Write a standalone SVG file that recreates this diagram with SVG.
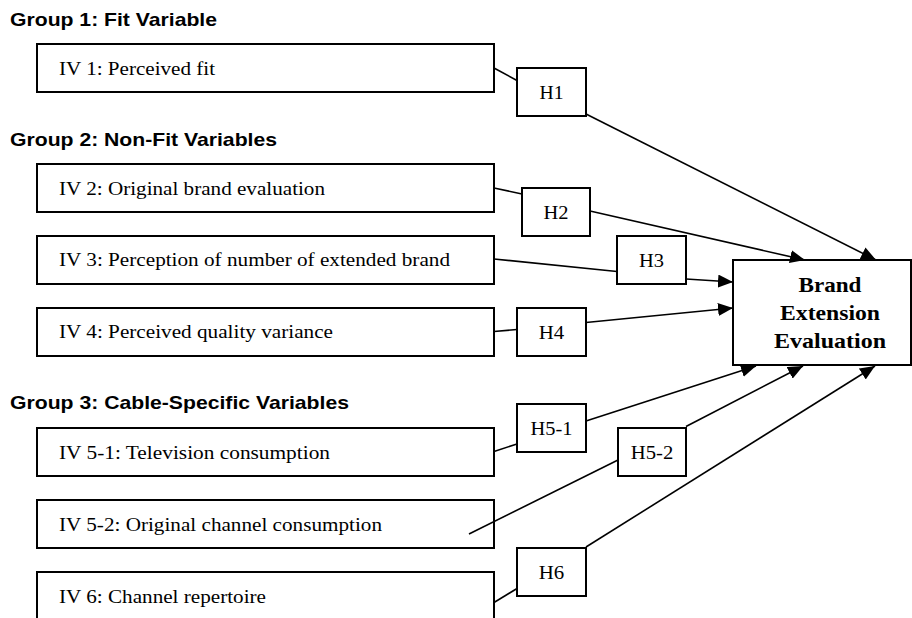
<svg xmlns="http://www.w3.org/2000/svg" width="912" height="618" viewBox="0 0 912 618">
<style>
.bg{fill:#ffffff}
.box{fill:#ffffff;stroke:#000000;stroke-width:2}
.head{font-family:"Liberation Sans",Arial,sans-serif;font-weight:bold;font-size:18.5px;fill:#000000}
.iv{font-family:"Liberation Serif","Times New Roman",serif;font-size:18px;fill:#000000}
.h{font-family:"Liberation Serif","Times New Roman",serif;font-size:18px;fill:#000000;text-anchor:middle}
.dv{font-family:"Liberation Serif","Times New Roman",serif;font-weight:bold;font-size:22px;fill:#000000;text-anchor:middle}
.ln{fill:none;stroke:#000000;stroke-width:1.6}
.ar{fill:none;stroke:#000000;stroke-width:1.6;marker-end:url(#arrow)}
</style>
<defs>
<marker id="arrow" markerUnits="userSpaceOnUse" markerWidth="16" markerHeight="13" refX="15" refY="6.5" orient="auto">
<path d="M0,0 L15,6.5 L0,13 z" fill="#000000"/>
</marker>
</defs>
<rect class="bg" x="0" y="0" width="912" height="618"/>

<g id="headings">
<text class="head" x="10" y="26" textLength="207" lengthAdjust="spacingAndGlyphs">Group 1: Fit Variable</text>
<text class="head" x="10" y="146" textLength="267" lengthAdjust="spacingAndGlyphs">Group 2: Non-Fit Variables</text>
<text class="head" x="10" y="409" textLength="339" lengthAdjust="spacingAndGlyphs">Group 3: Cable-Specific Variables</text>
</g>

<g id="iv1"><rect class="box" x="37" y="44" width="457" height="48"/><text class="iv" x="59" y="75" textLength="156" lengthAdjust="spacingAndGlyphs">IV 1: Perceived fit</text></g>
<g id="iv2"><rect class="box" x="37" y="164" width="457" height="48"/><text class="iv" x="59" y="195" textLength="266" lengthAdjust="spacingAndGlyphs">IV 2: Original brand evaluation</text></g>
<g id="iv3"><rect class="box" x="37" y="236" width="457" height="48"/><text class="iv" x="59" y="266" textLength="391" lengthAdjust="spacingAndGlyphs">IV 3: Perception of number of extended brand</text></g>
<g id="iv4"><rect class="box" x="37" y="308" width="457" height="48"/><text class="iv" x="59" y="338" textLength="274" lengthAdjust="spacingAndGlyphs">IV 4: Perceived quality variance</text></g>
<g id="iv5-1"><rect class="box" x="37" y="428" width="457" height="48"/><text class="iv" x="59" y="459" textLength="271" lengthAdjust="spacingAndGlyphs">IV 5-1: Television consumption</text></g>
<g id="iv5-2"><rect class="box" x="37" y="500" width="457" height="48"/><text class="iv" x="59" y="531" textLength="323" lengthAdjust="spacingAndGlyphs">IV 5-2: Original channel consumption</text></g>
<g id="iv6"><rect class="box" x="37" y="572" width="457" height="56"/><text class="iv" x="59" y="602.5" textLength="207" lengthAdjust="spacingAndGlyphs">IV 6: Channel repertoire</text></g>

<g id="h1"><rect class="box" x="517" y="68" width="69" height="48"/><text class="h" x="551.5" y="99" textLength="24" lengthAdjust="spacingAndGlyphs">H1</text></g>
<g id="h2"><rect class="box" x="522" y="188" width="68" height="48"/><text class="h" x="556" y="219" textLength="25" lengthAdjust="spacingAndGlyphs">H2</text></g>
<g id="h3"><rect class="box" x="617" y="236" width="69" height="48"/><text class="h" x="651.5" y="267" textLength="25" lengthAdjust="spacingAndGlyphs">H3</text></g>
<g id="h4"><rect class="box" x="517" y="308" width="69" height="48"/><text class="h" x="551.5" y="339" textLength="25.5" lengthAdjust="spacingAndGlyphs">H4</text></g>
<g id="h5-1"><rect class="box" x="517" y="404" width="69" height="48"/><text class="h" x="551.5" y="435" textLength="42" lengthAdjust="spacingAndGlyphs">H5-1</text></g>
<g id="h5-2"><rect class="box" x="618" y="428" width="68" height="48"/><text class="h" x="652" y="459" textLength="42.5" lengthAdjust="spacingAndGlyphs">H5-2</text></g>
<g id="h6"><rect class="box" x="517" y="548" width="69" height="48"/><text class="h" x="551.5" y="579" textLength="25.5" lengthAdjust="spacingAndGlyphs">H6</text></g>

<g id="dv"><rect class="box" x="733" y="260" width="178" height="105"/>
<text class="dv" x="830" y="292" textLength="63" lengthAdjust="spacingAndGlyphs">Brand</text>
<text class="dv" x="830" y="320" textLength="100" lengthAdjust="spacingAndGlyphs">Extension</text>
<text class="dv" x="830" y="348" textLength="112" lengthAdjust="spacingAndGlyphs">Evaluation</text>
</g>

<g id="connectors">
<line class="ln" x1="494" y1="68" x2="517" y2="80.5"/>
<line class="ln" x1="494" y1="188" x2="522" y2="194"/>
<line class="ln" x1="494" y1="259" x2="617" y2="271.5"/>
<line class="ln" x1="494" y1="331.5" x2="517" y2="329.5"/>
<line class="ln" x1="494" y1="451.5" x2="517" y2="444"/>
<line class="ln" x1="469" y1="534" x2="618" y2="460"/>
<line class="ln" x1="494" y1="602.5" x2="517" y2="588.5"/>
<line class="ar" x1="586" y1="114" x2="876" y2="260"/>
<line class="ar" x1="590" y1="211" x2="805" y2="260"/>
<line class="ar" x1="686" y1="279" x2="733" y2="282"/>
<line class="ar" x1="586" y1="322.5" x2="733" y2="308"/>
<line class="ar" x1="586" y1="421" x2="756" y2="366"/>
<line class="ar" x1="686" y1="426.5" x2="803" y2="366"/>
<line class="ar" x1="586" y1="547" x2="875" y2="366"/>
</g>
</svg>
